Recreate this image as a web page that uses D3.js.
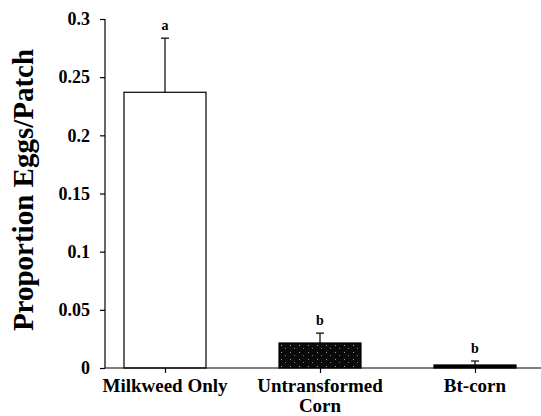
<!DOCTYPE html>
<html>
<head>
<meta charset="utf-8">
<script src="https://cdn.jsdelivr.net/npm/d3@7"></script>
<style>
  body { margin: 0; background: #fff; }
  text { font-family: "Liberation Serif", "Times New Roman", serif; font-weight: bold; fill: #000; }
</style>
</head>
<body>
<script>
// values
var categories = ["Milkweed Only", "Untransformed Corn", "Bt-corn"];
var means = [0.237, 0.0215, 0.0026];
var errors = [0.0465, 0.0085, 0.0034];
var letters = ["a", "b", "b"];
var yTicks = [0, 0.05, 0.1, 0.15, 0.2, 0.25, 0.3];

var w = 541, h = 416;
var axisX = 105, axisRight = 541;
var plotTop = 19, plotBottom = 368;
var barWidth = 82;

var svg = d3.select("body")
	.append("svg")
	.attr("width", w)
	.attr("height", h);

// texture for the untransformed corn bar
var pat = svg.append("defs").append("pattern")
	.attr("id", "speckle")
	.attr("patternUnits", "userSpaceOnUse")
	.attr("width", 9)
	.attr("height", 7);
pat.append("rect").attr("width", 9).attr("height", 7).attr("fill", "#0a0a0a");
pat.append("rect").attr("x", 2).attr("y", 2).attr("width", 1).attr("height", 1).attr("fill", "#9a9a9a");
pat.append("rect").attr("x", 6).attr("y", 5).attr("width", 1).attr("height", 1).attr("fill", "#777");

var x = d3.scalePoint()
	.domain(categories)
	.range([165, 475]);

var y = d3.scaleLinear()
	.domain([0, 0.3])
	.range([plotBottom, plotTop]);

var fills = ["#fff", "url(#speckle)", "#000"];

var data = categories.map(function(c, i) {
	return { cat: c, mean: means[i], err: errors[i], letter: letters[i], fill: fills[i] };
});

// bars
svg.selectAll("rect.bar")
	.data(data)
	.enter().append("rect")
	.attr("class", "bar")
	.attr("x", function(d) { return x(d.cat) - barWidth / 2; })
	.attr("y", function(d) { return y(d.mean); })
	.attr("width", barWidth)
	.attr("height", function(d) { return plotBottom - y(d.mean); })
	.attr("fill", function(d) { return d.fill; })
	.attr("stroke", "#000")
	.attr("stroke-width", 1.2);

// error bars
svg.selectAll("line.err")
	.data(data)
	.enter().append("line")
	.attr("x1", function(d) { return x(d.cat); })
	.attr("x2", function(d) { return x(d.cat); })
	.attr("y1", function(d) { return y(d.mean); })
	.attr("y2", function(d) { return y(d.mean + d.err); })
	.attr("stroke", "#000")
	.attr("stroke-width", 1.2);

svg.selectAll("line.cap")
	.data(data)
	.enter().append("line")
	.attr("x1", function(d) { return x(d.cat) - 4; })
	.attr("x2", function(d) { return x(d.cat) + 4; })
	.attr("y1", function(d) { return y(d.mean + d.err); })
	.attr("y2", function(d) { return y(d.mean + d.err); })
	.attr("stroke", "#000")
	.attr("stroke-width", 1.2);

// significance letters
svg.selectAll("text.letter")
	.data(data)
	.enter().append("text")
	.attr("x", function(d) { return x(d.cat); })
	.attr("y", function(d) { return y(d.mean + d.err) - 8; })
	.attr("text-anchor", "middle")
	.style("font-size", "14px")
	.text(function(d) { return d.letter; });

// y axis
var yAxis = svg.append("g")
	.attr("transform", "translate(" + axisX + ",0)")
	.call(d3.axisLeft(y).tickValues(yTicks).tickSize(5).tickPadding(10)
		.tickFormat(function(d) { return String(d); }));
yAxis.select(".domain").attr("stroke", "#000").attr("stroke-width", 1.2).attr("d", "M0," + plotTop + "V" + plotBottom);
yAxis.selectAll("line").attr("stroke-width", 1.2);
yAxis.selectAll("text")
	.style("font-size", "18px")
	.style("font-family", "'Liberation Serif', serif")
	.style("font-weight", "bold");

// x axis
var xAxis = svg.append("g")
	.attr("transform", "translate(0," + plotBottom + ")")
	.call(d3.axisBottom(x).tickSize(5).tickFormat(""));
xAxis.select(".domain").attr("stroke-width", 1.2).attr("d", "M" + axisX + ",0H" + axisRight);
xAxis.selectAll("line").attr("stroke-width", 1.2);

// category labels
var catLabels = svg.selectAll("text.cat")
	.data(data)
	.enter().append("text")
	.attr("class", "cat")
	.attr("text-anchor", "middle")
	.attr("x", function(d) { return x(d.cat); })
	.attr("y", 392)
	.style("font-size", "19px");
catLabels.each(function(d) {
	var parts = d.cat === "Untransformed Corn" ? ["Untransformed", "Corn"] : [d.cat];
	var t = d3.select(this);
	parts.forEach(function(p, i) {
		t.append("tspan")
			.attr("x", x(d.cat))
			.attr("dy", i === 0 ? 0 : 20)
			.text(p);
	});
});

// y axis title
svg.append("text")
	.attr("transform", "translate(33,190) rotate(-90)")
	.attr("text-anchor", "middle")
	.style("font-size", "29px")
	.text("Proportion Eggs/Patch");
</script>
</body>
</html>
